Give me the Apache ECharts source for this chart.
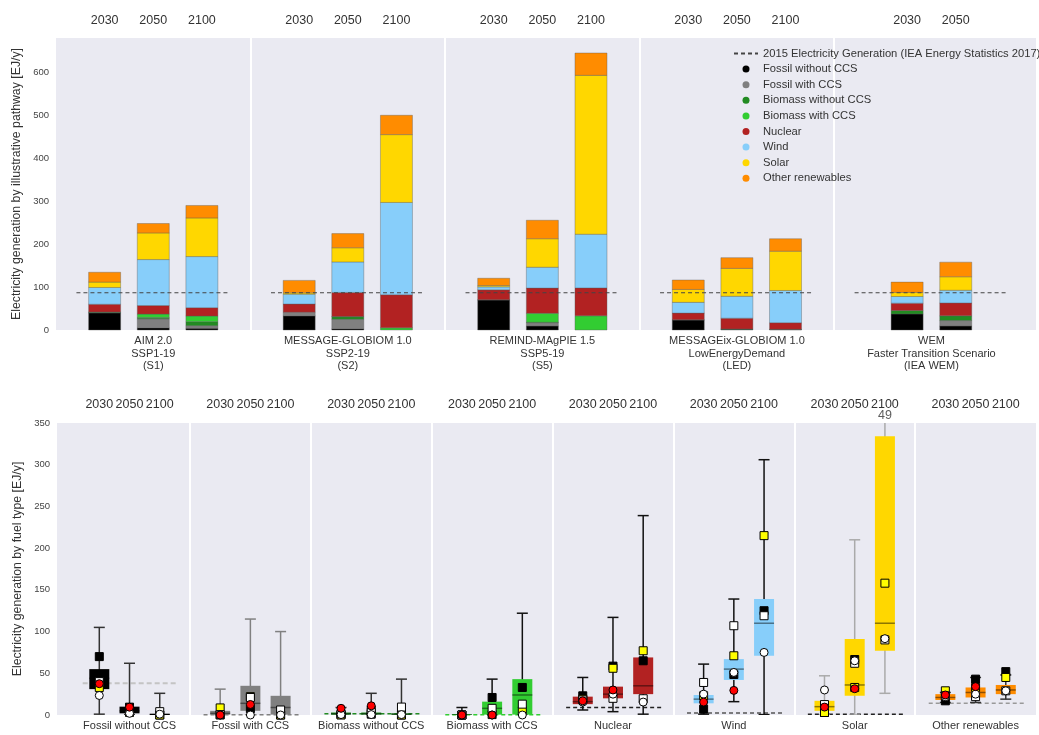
<!DOCTYPE html>
<html>
<head>
<meta charset="utf-8">
<script src="https://cdn.jsdelivr.net/npm/echarts@6/dist/echarts.min.js"></script>
<style>html,body{margin:0;padding:0;background:#fff}#c{width:1039px;height:735px}</style>
</head>
<body>
<div id="c"></div>
<script>
// ================= DATA =================
const FUELS = ['Fossil without CCS','Fossil with CCS','Biomass without CCS','Biomass with CCS','Nuclear','Wind','Solar','Other renewables'];
const YEARS = ['2030','2050','2100'];
const PATHWAY_LABELS = [
  'AIM 2.0\nSSP1-19\n(S1)',
  'MESSAGE-GLOBIOM 1.0\nSSP2-19\n(S2)',
  'REMIND-MAgPIE 1.5\nSSP5-19\n(S5)',
  'MESSAGEix-GLOBIOM 1.0\nLowEnergyDemand\n(LED)',
  'WEM\nFaster Transition Scenario\n(IEA WEM)'
];
const PATHWAY_YEARS = [YEARS, YEARS, YEARS, YEARS, ['2030','2050']];
const LINE_NAME = '2015 Electricity Generation (IEA Energy Statistics 2017)';

// top: illustrative pathways, order S1(3), S2(3), S5(3), LED(3), WEM(2)  [EJ/y]
const fossilNoCCS = [40, 5, 4,    33, 3, 0,     70, 9.4, 0,    23.4, 2, 1,      37.5, 9.4];
const fossilCCS   = [0.5, 21, 6,  8.5, 22, 0,   0, 7.6, 0,     0, 0, 0,         0, 12.6];
const bioNoCCS    = [1.5, 3, 9.5, 0, 6, 0,      0.5, 1, 0,     0.5, 0.5, 0.5,   8, 11];
const bioCCS      = [0, 8, 13,    0, 0.5, 5,    0, 21, 33,     0, 0, 0,         0, 0];
const nuclear     = [18, 20, 19.5, 19, 56, 77,  23, 58.6, 65,  15.5, 25, 15.5,  17, 30];
const wind        = [39, 107, 119, 23, 71, 215, 7, 48.5, 125,  25, 51, 75,      15.5, 29.5];
const solar       = [12.5, 62, 90, 3, 33, 158,  3, 66.5, 370,  30, 65, 91.5,    9.5, 31.5];
const otherRen    = [23, 22, 29,  29, 33, 45,   17, 43, 52,    22, 25, 29,      24, 34];
const GEN_2015_TOTAL = 86.7;

// bottom: ranges per fuel type, [min, q1, median, q3, max] for 2030, 2050, 2100
const boxFossilNoCCS = [[1, 31, 44, 55, 105], [0.5, 2, 5, 10, 62], [0, 0.2, 0.5, 1.5, 26]];
const boxFossilCCS   = [[0, 0.5, 2, 5, 31], [0, 5, 14, 35, 115], [0, 0.5, 9, 23, 100]];
const boxBioNoCCS    = [[0, 0.5, 1.5, 3, 9], [0, 0.5, 1.5, 3, 26], [0, 0.2, 1, 2, 43]];
const boxBioCCS      = [[0, 0, 0.2, 0.8, 9], [0, 0.5, 8, 16, 43], [0, 0.5, 24, 43, 122]];
const boxNuclear     = [[6, 13, 16, 22, 45], [4, 20, 25, 34, 117], [1, 25, 35, 69, 239]];
const boxWind        = [[1, 14, 19, 24, 61], [16, 42, 55, 67, 139], [0.5, 71, 110, 139, 306]];
const boxSolar       = [[0, 5, 10, 17, 47], [0, 23, 36, 91, 210], [26, 77, 110, 334, 480]];
const boxOtherRen    = [[15, 18, 21, 25, 27], [15, 21, 27, 33, 45], [19, 25, 30, 36, 48]];
const GEN_2015_BY_FUEL = [38, 0.4, 1.5, 0.4, 9, 2.5, 0.8, 14];
const SOLAR_NOTE = '49';

// ================= STYLE =================
const FONT = 'Liberation Sans';
const TXT = '#333';
const BG = '#EAEAF2';
const FUEL_COLORS = ['#000000','#808080','#228B22','#32CD32','#B22222','#87CEFA','#FFD700','#FF8C00'];
const WHISKER_COLORS = ['#333','#808080','#333','#111','#111','#111','#aaaaaa','#333'];
const REF_LINE_COLORS = ['#c4c4c4','#808080','#228B22','#32CD32','#222','#555','#222','#999'];
const MARKERS = [ // pathway index -> marker style (drawn in this order)
  {p: 2, symbol: 'rect', color: '#000000', size: 8},
  {p: 1, symbol: 'rect', color: '#FFFF00', size: 8},
  {p: 0, symbol: 'rect', color: '#FFFFFF', size: 8},
  {p: 3, symbol: 'circle', color: '#FFFFFF', size: 8},
  {p: 4, symbol: 'circle', color: '#FF0000', size: 8}
];

const topValues = [fossilNoCCS, fossilCCS, bioNoCCS, bioCCS, nuclear, wind, solar, otherRen];
const boxValues = [boxFossilNoCCS, boxFossilCCS, boxBioNoCCS, boxBioCCS, boxNuclear, boxWind, boxSolar, boxOtherRen];

// ================= POSITIONS (4 slots per panel) =================
const key = v => (Math.round(v * 10) / 10).toFixed(1);
const topPos = [];
const pathwayOffset = [];
const topYearLabel = {};
const topPanelLabel = {};
PATHWAY_YEARS.forEach((yrs, p) => {
  pathwayOffset.push(topPos.length);
  const n = yrs.length;
  yrs.forEach((y, j) => {
    const x = 4 * p + 2 - (n - 1) / 2 + j;
    topPos.push(x);
    topYearLabel[key(x)] = y;
  });
  topPanelLabel[key(4 * p + 2)] = PATHWAY_LABELS[p];
});
const botYearLabel = {};
const botPanelLabel = {};
FUELS.forEach((f, i) => {
  YEARS.forEach((y, j) => { botYearLabel[key(4 * i + 1 + j)] = y; });
  botPanelLabel[key(4 * i + 2)] = f;
});
const TOP_SEPS = [4, 8, 12, 16];
const BOT_SEPS = [4, 8, 12, 16, 20, 24, 28];

// 2015 line (top) segments
const refLineData = [];
PATHWAY_LABELS.forEach((_, p) => {
  refLineData.push([4 * p + 0.42, GEN_2015_TOTAL], [4 * p + 3.58, GEN_2015_TOTAL], [4 * p + 3.8, '-']);
});

// ================= SERIES =================
const series = [];
// top separators (behind everything)
series.push({
  type: 'line', name: '_topsep', xAxisIndex: 0, yAxisIndex: 0, data: [], symbol: 'none', animation: false, z: 0,
  markLine: {
    silent: true, symbol: 'none', label: {show: false}, animation: false,
    lineStyle: {color: '#ffffff', width: 2, type: 'solid'},
    data: TOP_SEPS.map(v => ({xAxis: v}))
  }
});
// stacked bars (stack offsets computed from the fuel arrays)
const cum = topPos.map(() => 0);
FUELS.forEach((name, f) => {
  const data = topValues[f].map((v, i) => { const d = [topPos[i], cum[i], cum[i] + v]; cum[i] += v; return d; });
  series.push({
    type: 'custom', name, xAxisIndex: 0, yAxisIndex: 0, data, animation: false, silent: true, z: 2,
    encode: {x: 0, y: [1, 2]},
    itemStyle: {color: FUEL_COLORS[f]},
    renderItem: (params, api) => {
      const x = api.value(0);
      const a = api.coord([x, api.value(1)]);
      const b = api.coord([x, api.value(2)]);
      if (a[1] - b[1] < 0.01) return null;
      return {type: 'rect', shape: {x: a[0] - 16, y: b[1], width: 32, height: a[1] - b[1]},
        style: {fill: FUEL_COLORS[f], stroke: 'rgba(90,90,90,0.55)', lineWidth: 0.7}};
    }
  });
});
series.push({
  type: 'line', name: LINE_NAME, xAxisIndex: 0, yAxisIndex: 0,
  data: refLineData, symbol: 'none', connectNulls: false,
  lineStyle: {color: '#444', width: 1.1, type: [4, 3]},
  itemStyle: {color: '#444'},
  z: 5, animation: false, silent: true
});
// bottom separators
series.push({
  type: 'line', name: '_botsep', xAxisIndex: 2, yAxisIndex: 1, data: [], symbol: 'none', animation: false, z: 0,
  markLine: {
    silent: true, symbol: 'none', label: {show: false}, animation: false,
    lineStyle: {color: '#ffffff', width: 2, type: 'solid'},
    data: BOT_SEPS.map(v => ({xAxis: v}))
  }
});
// bottom 2015 reference lines per fuel
series.push({
  type: 'custom', name: '_ref', xAxisIndex: 2, yAxisIndex: 1, animation: false, silent: true, z: 1,
  data: GEN_2015_BY_FUEL.map((v, f) => [f, v]),
  renderItem: (params, api) => {
    const f = api.value(0), v = api.value(1);
    const a = api.coord([4 * f + 0.45, v]);
    const b = api.coord([4 * f + 3.6, v]);
    const wide = f === 0;
    return {type: 'line', shape: {x1: a[0], y1: a[1], x2: b[0], y2: b[1]},
      style: {stroke: REF_LINE_COLORS[f], lineWidth: wide ? 2 : 1.5, lineDash: wide ? [5, 3] : [4, 3]}};
  }
});
// boxes
const boxData = [];
boxValues.forEach((arr, f) => arr.forEach((b, j) => boxData.push([4 * f + 1 + j, b[0], b[1], b[2], b[3], b[4], f])));
series.push({
  type: 'custom', name: '_box', xAxisIndex: 2, yAxisIndex: 1, animation: false, silent: true, clip: true, z: 3,
  encode: {x: 0, y: [1, 2, 3, 4, 5]},
  data: boxData,
  renderItem: (params, api) => {
    const x = api.value(0), f = api.value(6);
    const pMin = api.coord([x, api.value(1)]);
    const pQ1 = api.coord([x, api.value(2)]);
    const pMed = api.coord([x, api.value(3)]);
    const pQ3 = api.coord([x, api.value(4)]);
    const pMax = api.coord([x, api.value(5)]);
    const cx = pMin[0], hb = 10, hc = 5.5, wc = WHISKER_COLORS[f];
    return {type: 'group', children: [
      {type: 'line', shape: {x1: cx, y1: pMin[1], x2: cx, y2: pMax[1]}, style: {stroke: wc, lineWidth: 1.5}},
      {type: 'line', shape: {x1: cx - hc, y1: pMin[1], x2: cx + hc, y2: pMin[1]}, style: {stroke: wc, lineWidth: 1.5}},
      {type: 'line', shape: {x1: cx - hc, y1: pMax[1], x2: cx + hc, y2: pMax[1]}, style: {stroke: wc, lineWidth: 1.5}},
      {type: 'rect', shape: {x: cx - hb, y: pQ3[1], width: 2 * hb, height: Math.max(pQ1[1] - pQ3[1], 1.5)}, style: {fill: FUEL_COLORS[f]}},
      {type: 'line', shape: {x1: cx - hb, y1: pMed[1], x2: cx + hb, y2: pMed[1]}, style: {stroke: 'rgba(0,0,0,0.45)', lineWidth: 1.5}}
    ]};
  }
});
// pathway markers in the bottom panel
MARKERS.forEach(m => {
  const yrs = PATHWAY_YEARS[m.p];
  const data = [];
  topValues.forEach((arr, f) => yrs.forEach((y, j) => {
    data.push([4 * f + 1 + j, arr[pathwayOffset[m.p] + j]]);
  }));
  series.push({
    type: 'scatter', name: '_m' + m.p, xAxisIndex: 2, yAxisIndex: 1, data, clip: true,
    symbol: m.symbol, symbolSize: m.size, z: 6, animation: false, silent: true,
    itemStyle: {color: m.color, borderColor: '#000', borderWidth: 1, opacity: 1}
  });
});
// note above the solar 2100 range
series.push({
  type: 'scatter', name: '_note', xAxisIndex: 2, yAxisIndex: 1, clip: false, silent: true, animation: false,
  data: [[4 * 6 + 3, 350]], symbolSize: 0,
  label: {show: true, formatter: SOLAR_NOTE, position: 'top', distance: 1, fontSize: 12.5, color: TXT, fontFamily: FONT}
});

// ================= AXES =================
const hiddenAxisParts = {axisLine: {show: false}, axisTick: {show: false}, splitLine: {show: false}};
const TOP_MAX = 20.15;
const option = {
  backgroundColor: '#ffffff',
  animation: false,
  textStyle: {fontFamily: FONT},
  grid: [
    {left: 56, right: 1, top: 38, height: 292, show: true, backgroundColor: BG, borderWidth: 0},
    {left: 57, right: 1, top: 423, height: 292, show: true, backgroundColor: BG, borderWidth: 0}
  ],
  xAxis: [
    Object.assign({gridIndex: 0, type: 'value', min: 0, max: TOP_MAX, interval: 0.5, position: 'bottom',
      axisLabel: {formatter: v => topPanelLabel[key(v)] || '', fontSize: 11, lineHeight: 12.5, color: TXT, margin: 5}}, hiddenAxisParts),
    Object.assign({gridIndex: 0, type: 'value', min: 0, max: TOP_MAX, interval: 0.5, position: 'top',
      axisLabel: {formatter: v => topYearLabel[key(v)] || '', fontSize: 12.5, color: TXT, margin: 11}}, hiddenAxisParts),
    Object.assign({gridIndex: 1, type: 'value', min: -0.4, max: 32, interval: 0.2, position: 'bottom',
      axisLabel: {formatter: v => botPanelLabel[key(v)] || '', fontSize: 11, color: TXT, margin: 5}}, hiddenAxisParts),
    Object.assign({gridIndex: 1, type: 'value', min: -0.4, max: 32, interval: 0.2, position: 'top',
      axisLabel: {formatter: v => botYearLabel[key(v)] || '', fontSize: 12.5, color: TXT, margin: 12}}, hiddenAxisParts)
  ],
  yAxis: [
    Object.assign({gridIndex: 0, type: 'value', min: 0, max: 680, interval: 100,
      name: 'Electricity generation by illustrative pathway [EJ/y]', nameLocation: 'middle', nameGap: 32,
      nameTextStyle: {fontSize: 12.3, color: TXT},
      axisLabel: {fontSize: 9.5, color: '#444', margin: 7, showMaxLabel: false}}, hiddenAxisParts),
    Object.assign({gridIndex: 1, type: 'value', min: 0, max: 350, interval: 50,
      name: 'Electricity generation by fuel type [EJ/y]', nameLocation: 'middle', nameGap: 33,
      nameTextStyle: {fontSize: 12.3, color: TXT},
      axisLabel: {fontSize: 9.5, color: '#444', margin: 7}}, hiddenAxisParts)
  ],
  legend: {
    orient: 'vertical', left: 733, top: 47, padding: 0, z: 10,
    itemWidth: 24, itemHeight: 7, itemGap: 2.6, selectedMode: false,
    textStyle: {fontSize: 11.2, color: TXT, lineHeight: 13},
    itemStyle: {borderWidth: 0},
    data: [{name: LINE_NAME, itemStyle: {opacity: 0}}].concat(FUELS.map(n => ({name: n, icon: 'circle'})))
  },
  series
};
const chart = echarts.init(document.getElementById('c'), null, {renderer: 'canvas'});
chart.setOption(option);
</script>
</body>
</html>
